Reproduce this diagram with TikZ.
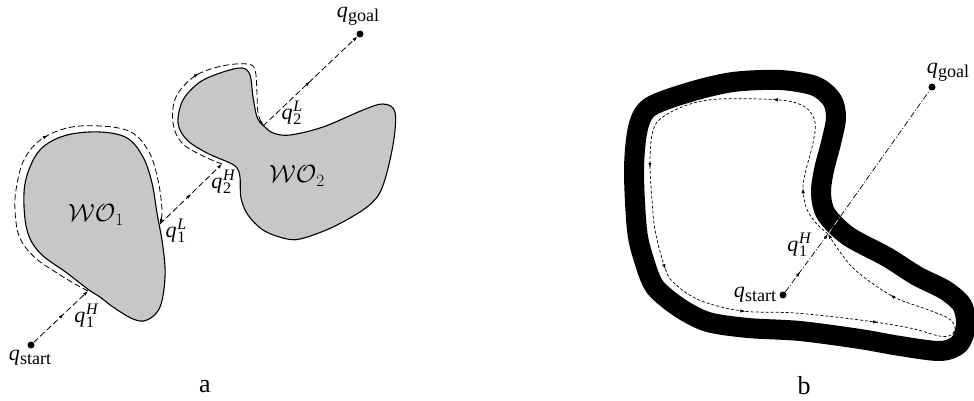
\documentclass[tikz,border=0pt]{standalone}
\usepackage{fontspec}
\setmainfont{Liberation Serif}
\usetikzlibrary{arrows.meta,decorations.markings}
\newcommand{\qsub}[1]{{\fontsize{22}{22}\selectfont\itshape q}\kern0.3pt\raisebox{-4pt}{\fontsize{18}{18}\selectfont #1}}
\newcommand{\qsubsup}[2]{{\fontsize{22}{22}\selectfont\itshape q}\kern0.8pt\rlap{\raisebox{-5pt}{\fontsize{16}{16}\selectfont #1}}\raisebox{8pt}{\fontsize{16}{16}\selectfont\itshape #2}}
\tikzset{
  tipa/.tip={Latex[length=5pt,width=3.4pt]},
  obst/.style={draw=black,line width=1.1pt,fill=black!22},
  dline/.style={line width=0.8pt,dash pattern=on 6pt off 3pt},
  ddline/.style={line width=0.7pt,dash pattern=on 6pt off 2pt on 1pt off 2pt},
  loopline/.style={line width=0.7pt,dash pattern=on 3pt off 2pt},
  band/.style={line width=20pt,line join=round,draw=black},
  dot/.style={circle,fill=black,inner sep=0pt,minimum size=7pt},
  lab/.style={inner sep=0pt},
  am/.style={postaction={decorate},decoration={markings,mark=at position #1 with {\arrow{tipa}}}},
}
\begin{document}
\begin{tikzpicture}[x=1pt,y=-1pt]
\useasboundingbox (0,0) rectangle (974,401);
% ---------- panel a ----------
\draw[obst] plot[smooth cycle,tension=0.6] coordinates {(89,290) (67,273) (40,253) (27,230) (24,193) (30,167) (43,147) (67,135) (100,132) (127,138) (143,157) (152,183) (157,213) (163,247) (165,277) (160,307) (147,320) (133,319) (113,307) (100,297)};
\draw[obst] plot[smooth cycle,tension=0.55] coordinates {(230,163) (207,153) (187,140) (178,123) (183,100) (200,82) (223,72) (242,68) (250,75) (253,97) (257,117) (263,125) (273,133) (290,135) (323,127) (363,110) (383,104) (395,112) (393,145) (382,188) (367,207) (333,227) (300,239) (283,238) (263,230) (248,215) (241,198) (240,177) (237,168)};
\node[lab] (wo1) at (96,215) {\fontsize{24}{24}\selectfont$\mathcal{WO}_1$};
\node[lab] (wo2) at (297,176) {\fontsize{24}{24}\selectfont$\mathcal{WO}_2$};
\node[dot] (sa) at (31,345) {};
\node[dot] (ga) at (360,34) {};
\coordinate (h1) at (88,291);
\coordinate (l1) at (160,224);
\coordinate (h2) at (222,164);
\coordinate (l2) at (263,126);
\draw[dline,am=0.55,-{tipa}] (sa) -- (h1);
\draw[dline,am=0.5,-{tipa}] (l1) -- (h2);
\draw[dline,am=0.5,-{tipa}] (l2) -- (ga);
\draw[dline,am=0.52,-{tipa}] plot[smooth,tension=0.6] coordinates {(h1) (75,284) (57,273) (39,261) (26,248) (18,233) (15,210) (16,190) (23,162) (39,141) (67,128) (100,126) (131,132) (149,152) (158,180) (162,210) (l1)};
\draw[dline,am=0.52,-{tipa}] plot[smooth,tension=0.6] coordinates {(h2) (203,156) (182,143) (173,123) (176,97) (195,76) (222,66) (247,64) (255,70) (257,93) (258,113) (l2)};
\node[lab] (qsa) at (30,358) {\qsub{start}};
\node[lab] (qga) at (358,16) {\qsub{goal}};
\node[lab] (q1ha) at (86,316) {\qsubsup{1}{H}};
\node[lab] (q1la) at (176,231) {\qsubsup{1}{L}};
\node[lab] (q2ha) at (223,182) {\qsubsup{2}{H}};
\node[lab] (q2la) at (292,113) {\qsubsup{2}{L}};
\node[lab] (capa) at (205,387) {\fontsize{26}{26}\selectfont a};
% ---------- panel b ----------
\draw[band] plot[smooth cycle,tension=0.5] coordinates {(634,170) (638,128) (650,107) (690,92) (733,82) (780,80) (815,86) (832,100) (836,118) (831,143) (824,170) (821,193) (826,214) (848,236) (887,257) (917,276) (945,290) (962,305) (966,325) (959,344) (940,351) (900,346) (860,339) (800,331) (748,328) (708,322) (680,308) (655,287) (644,260) (637,230)};
\node[dot] (sb) at (783,295) {};
\node[dot] (gb) at (932,87) {};
\coordinate (h1b) at (828,234);
\coordinate (exb) at (840,217);
\draw[loopline,-{tipa},postaction={decorate},decoration={markings,
  mark=at position 0.059 with {\arrow{tipa}},
  mark=at position 0.189 with {\arrow{tipa}},
  mark=at position 0.372 with {\arrow{tipa}},
  mark=at position 0.484 with {\arrow{tipa}},
  mark=at position 0.587 with {\arrow{tipa}},
  mark=at position 0.732 with {\arrow{tipa}},
  mark=at position 0.904 with {\arrow{tipa}}}]
  plot[smooth,tension=0.55] coordinates {(h1b) (815,222) (806,207) (803,187) (806,170) (813,143) (815,122) (805,107) (780,100) (720,99) (687,105) (660,119) (652,135) (650,165) (652,200) (655,230) (664,265) (673,282) (699,300) (742,311) (795,313) (860,320) (910,328) (939,336) (951,335) (955,327) (948,318) (926,309) (892,296) (853,268) (h1b)};
\draw[ddline,am=0.35,-{tipa}] (sb) -- (h1b);
\draw[ddline] (h1b) -- (gb);
\draw[ddline,white,line width=0.6pt] (h1b) -- (exb);
\node[lab] (qsb) at (755,295) {\qsub{start}};
\node[lab] (qgb) at (948,72) {\qsub{goal}};
\node[lab] (q1hb) at (799,245) {\qsubsup{1}{H}};
\node[lab] (capb) at (804,386) {\fontsize{26}{26}\selectfont b};
\end{tikzpicture}
\end{document}
